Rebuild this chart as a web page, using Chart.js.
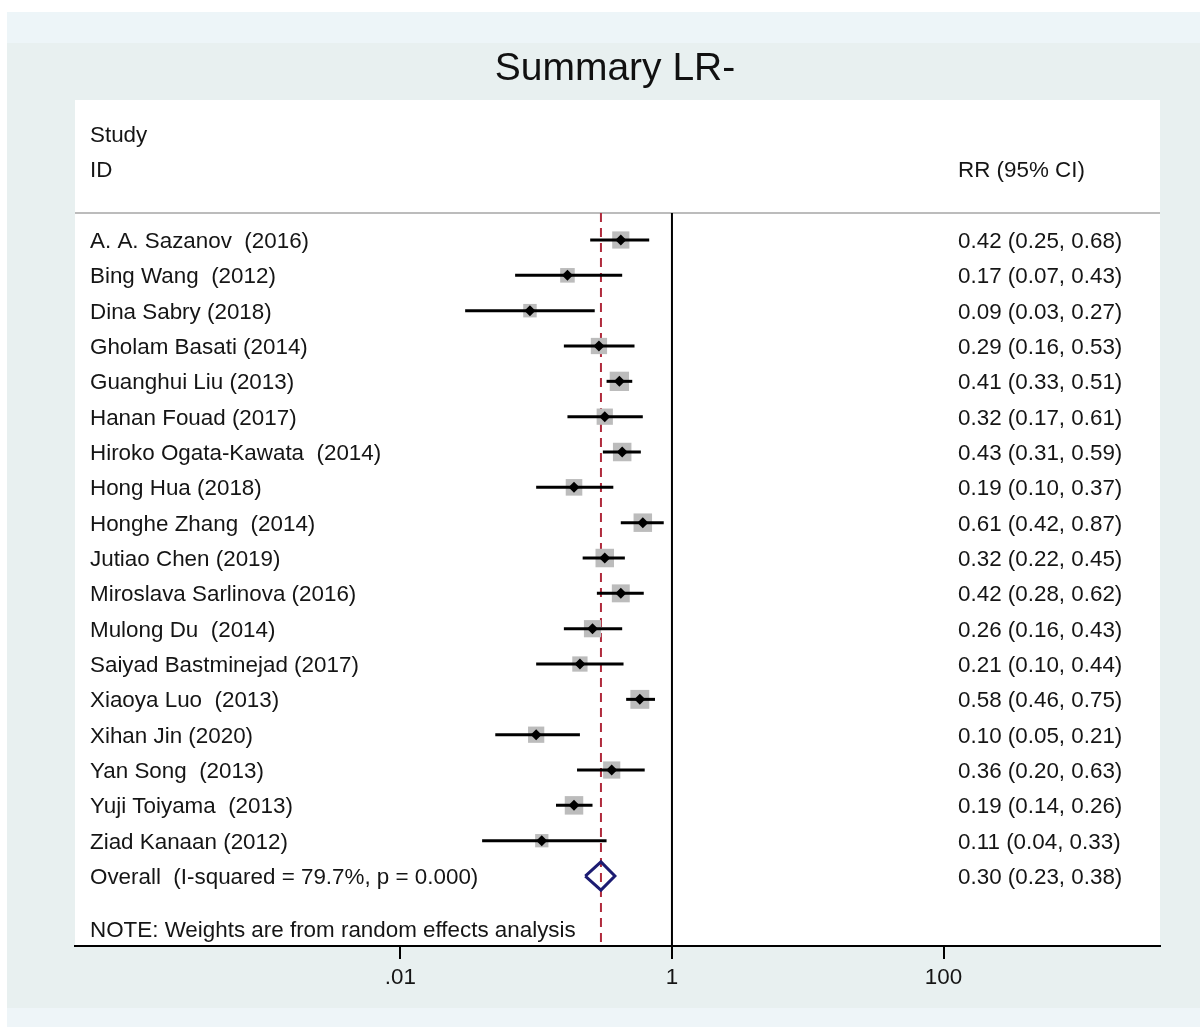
<!DOCTYPE html>
<html>
<head>
<meta charset="utf-8">
<title>Summary LR-</title>
<script src="https://cdn.jsdelivr.net/npm/chart.js@4.4.1/dist/chart.umd.min.js"></script>
<style>
  html, body { margin: 0; padding: 0; background: #ffffff; }
  canvas { display: block; }
</style>
</head>
<body>
<canvas id="forest" width="1200" height="1027"></canvas>
<script>
// ---- Data -------------------------------------------------------------
const studies = [
  'A. A. Sazanov  (2016)',
  'Bing Wang  (2012)',
  'Dina Sabry (2018)',
  'Gholam Basati (2014)',
  'Guanghui Liu (2013)',
  'Hanan Fouad (2017)',
  'Hiroko Ogata-Kawata  (2014)',
  'Hong Hua (2018)',
  'Honghe Zhang  (2014)',
  'Jutiao Chen (2019)',
  'Miroslava Sarlinova (2016)',
  'Mulong Du  (2014)',
  'Saiyad Bastminejad (2017)',
  'Xiaoya Luo  (2013)',
  'Xihan Jin (2020)',
  'Yan Song  (2013)',
  'Yuji Toiyama  (2013)',
  'Ziad Kanaan (2012)'
];
const rr    = [0.42, 0.17, 0.09, 0.29, 0.41, 0.32, 0.43, 0.19, 0.61, 0.32, 0.42, 0.26, 0.21, 0.58, 0.10, 0.36, 0.19, 0.11];
const lower = [0.25, 0.07, 0.03, 0.16, 0.33, 0.17, 0.31, 0.10, 0.42, 0.22, 0.28, 0.16, 0.10, 0.46, 0.05, 0.20, 0.14, 0.04];
const upper = [0.68, 0.43, 0.27, 0.53, 0.51, 0.61, 0.59, 0.37, 0.87, 0.45, 0.62, 0.43, 0.44, 0.75, 0.21, 0.63, 0.26, 0.33];
// random-effects weights (%), used for the box areas
const weights = [5.7, 4.1, 3.5, 5.1, 7.2, 5.1, 6.6, 5.3, 6.6, 6.6, 6.2, 5.7, 4.5, 6.9, 5.1, 5.7, 6.6, 3.4];

const overallLabel = 'Overall  (I-squared = 79.7%, p = 0.000)';
const overallRR = 0.30;
const overallLower = 0.23;
const overallUpper = 0.38;

const xTicks = [0.01, 1, 100];
const xTickLabels = ['.01', '1', '100'];

const titleText = 'Summary LR-';
const headerStudy = ['Study', 'ID'];
const headerEffect = 'RR (95% CI)';
const noteText = 'NOTE: Weights are from random effects analysis';

// ---- Layout / style constants ----------------------------------------
const X_MIN = Math.pow(10, -4.396);
const X_MAX = Math.pow(10, 3.594);
const Y_MIN = -0.764;          // top of plot region (row units)
const Y_MAX = 19.98;           // bottom of plot region (row units)
const FONT = '"Liberation Sans", Arial, Helvetica, sans-serif';
const TEXT_COLOR = '#151515';
const BOX_SCALE = 7.2;         // box side (px) per sqrt(weight %)
const DIAMOND_HALF_H = 0.4;    // overall diamond half-height (row units)

const nStudies = studies.length;
const overallRow = nStudies;

const fmt = v => v.toFixed(2);
const effectLabel = i => `${fmt(rr[i])} (${fmt(lower[i])}, ${fmt(upper[i])})`;

// ---- Datasets ---------------------------------------------------------
const pointMarkers = {
  label: 'estimate',
  data: rr.map((v, i) => ({ x: v, y: i })),
  pointStyle: 'rectRot',
  pointRadius: 5.5,
  pointBackgroundColor: '#000000',
  pointBorderWidth: 0,
  showLine: false
};

const overallDiamond = {
  label: 'overall',
  data: [
    { x: overallLower, y: overallRow },
    { x: overallRR,    y: overallRow - DIAMOND_HALF_H },
    { x: overallUpper, y: overallRow },
    { x: overallRR,    y: overallRow + DIAMOND_HALF_H },
    { x: overallLower, y: overallRow }
  ],
  showLine: true,
  borderColor: '#1c1c72',
  borderWidth: 3,
  borderJoinStyle: 'miter',
  pointRadius: 0,
  fill: false,
  tension: 0
};

const ciLines = studies.map((s, i) => ({
  label: 'ci-' + i,
  data: [{ x: lower[i], y: i }, { x: upper[i], y: i }],
  showLine: true,
  borderColor: '#000000',
  borderWidth: 3,
  borderCapStyle: 'butt',
  pointRadius: 0,
  fill: false
}));

const weightBoxes = {
  label: 'weight',
  data: rr.map((v, i) => ({ x: v, y: i })),
  pointStyle: 'rect',
  pointRadius: ctx => (Math.sqrt(weights[ctx.dataIndex]) * BOX_SCALE) / Math.SQRT2,
  pointBackgroundColor: '#bcbcbc',
  pointBorderWidth: 0,
  showLine: false
};

const nullLine = {
  label: 'null',
  data: [{ x: 1, y: Y_MIN }, { x: 1, y: Y_MAX }],
  showLine: true,
  borderColor: '#000000',
  borderWidth: 2,
  pointRadius: 0,
  fill: false
};

const overallLine = {
  label: 'overall-line',
  data: [{ x: overallRR, y: Y_MIN }, { x: overallRR, y: Y_MAX }],
  showLine: true,
  borderColor: '#b02a3c',
  borderWidth: 2,
  borderDash: [9, 6],
  pointRadius: 0,
  fill: false
};

// first dataset is drawn on top
const datasets = [pointMarkers, overallDiamond, ...ciLines, weightBoxes, overallLine, nullLine];

// ---- Plugins ----------------------------------------------------------
const backdrop = {
  id: 'backdrop',
  beforeDraw(chart) {
    const { ctx, chartArea } = chart;
    const W = chart.width, H = chart.height;
    ctx.save();
    ctx.fillStyle = '#ffffff';
    ctx.fillRect(0, 0, W, H);
    ctx.fillStyle = '#edf5f8';
    ctx.fillRect(7, 12, W - 7, 31);
    ctx.fillStyle = '#e8f0f0';
    ctx.fillRect(7, 43, W - 7, 965);
    ctx.fillStyle = '#eef5f8';
    ctx.fillRect(7, 1008, W - 7, H - 1008);
    // white plot panel including the header band
    ctx.fillStyle = '#ffffff';
    ctx.fillRect(chartArea.left, 100, chartArea.right - chartArea.left, chartArea.bottom - 100);
    // header separator
    ctx.strokeStyle = '#bcbcbc';
    ctx.lineWidth = 2;
    ctx.beginPath();
    ctx.moveTo(chartArea.left, chartArea.top);
    ctx.lineTo(chartArea.right, chartArea.top);
    ctx.stroke();
    ctx.restore();
  }
};

const textColumns = {
  id: 'textColumns',
  afterDraw(chart) {
    const { ctx } = chart;
    const y = chart.scales.y;
    const nameX = 90;
    const effectX = 958;
    const base = 8;
    ctx.save();
    ctx.fillStyle = '#111111';
    ctx.textBaseline = 'alphabetic';
    ctx.textAlign = 'center';
    ctx.font = `39px ${FONT}`;
    ctx.fillText(titleText, 615, 80);

    ctx.fillStyle = TEXT_COLOR;
    ctx.font = `22.4px ${FONT}`;
    ctx.textAlign = 'left';
    ctx.fillText(headerStudy[0], nameX, y.getPixelForValue(-3) + base);
    ctx.fillText(headerStudy[1], nameX, y.getPixelForValue(-2) + base);
    ctx.fillText(headerEffect, effectX, y.getPixelForValue(-2) + base);

    studies.forEach((s, i) => {
      const py = y.getPixelForValue(i) + base;
      ctx.fillText(s, nameX, py);
      ctx.fillText(effectLabel(i), effectX, py);
    });
    const oy = y.getPixelForValue(overallRow) + base;
    ctx.fillText(overallLabel, nameX, oy);
    ctx.fillText(`${fmt(overallRR)} (${fmt(overallLower)}, ${fmt(overallUpper)})`, effectX, oy);
    ctx.fillText(noteText, nameX, y.getPixelForValue(overallRow + 1.5) + base);
    ctx.restore();
  }
};

// ---- Chart ------------------------------------------------------------
new Chart(document.getElementById('forest'), {
  type: 'scatter',
  data: { datasets },
  options: {
    responsive: false,
    animation: false,
    events: [],
    layout: { padding: { left: 75, right: 40, top: 213, bottom: 0 } },
    plugins: {
      legend: { display: false },
      tooltip: { enabled: false },
      title: { display: false }
    },
    scales: {
      x: {
        type: 'logarithmic',
        position: 'bottom',
        min: X_MIN,
        max: X_MAX,
        afterBuildTicks: scale => { scale.ticks = xTicks.map(v => ({ value: v })); },
        afterFit: scale => { scale.height = 81; },
        ticks: {
          autoSkip: false,
          maxRotation: 0,
          padding: 5,
          color: TEXT_COLOR,
          font: { family: FONT, size: 22.4 },
          callback: value => xTickLabels[xTicks.indexOf(value)]
        },
        grid: {
          drawOnChartArea: false,
          drawTicks: true,
          tickLength: 13,
          color: '#000000',
          lineWidth: 2
        },
        border: { display: true, color: '#000000', width: 2 }
      },
      y: {
        type: 'linear',
        min: Y_MIN,
        max: Y_MAX,
        reverse: true,
        display: false
      }
    }
  },
  plugins: [backdrop, textColumns]
});
</script>
</body>
</html>
